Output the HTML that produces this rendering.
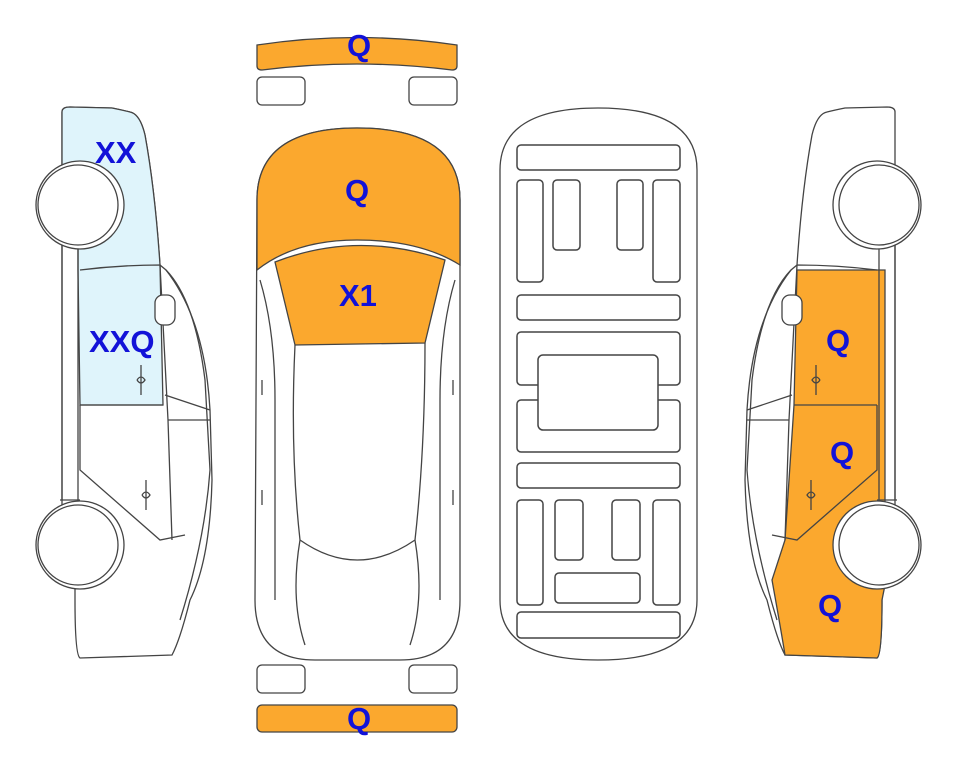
<!DOCTYPE html>
<html><head><style>
body{margin:0;background:#fff;}
svg{display:block}
text{font-family:"Liberation Sans",sans-serif;font-weight:bold;fill:#1212d8;font-size:31px;}
</style></head><body>
<svg width="963" height="768" viewBox="0 0 963 768" xmlns="http://www.w3.org/2000/svg" fill="none" stroke="#444" stroke-width="1.3">
<!-- LEFT CAR -->
<g>
<path d="M62,112 Q62,107 70,107 L112,108 Q122,110 130,112 Q140,114 145,135 Q155,190 160,265 L166,270 Q205,320 210,410 L212,480 Q210,560 190,600 Q180,640 172,655 L80,658 Q75,655 75,600 L75,560 L62,560 L62,112 Z" fill="#fff"/>
<path d="M62,112 Q62,107 70,107 L112,108 Q122,110 130,112 Q140,114 145,135 Q155,190 160,265 L163,405 L80,405 L78,270 L78,245 L62,245 Z" fill="#dff4fb"/>
<path d="M78,245 L78,500 M62,245 L62,500 M80,270 Q120,265 160,265 M80,405 L163,405 M80,405 L80,470 L160,540 L185,535 M160,265 L168,420 L172,540 M166,270 Q195,300 205,380 L210,470 Q205,540 180,620 M165,395 L210,410 M168,420 L210,420 M60,500 L80,500"/>
<rect x="155" y="295" width="20" height="30" rx="8" fill="#fff"/>
<path d="M141,365 L141,395 M137,380 Q141,374 145,380 Q141,386 137,380 M146,480 L146,510 M142,495 Q146,489 150,495 Q146,501 142,495"/>
<circle cx="80" cy="205" r="44" fill="#fff"/><circle cx="78" cy="205" r="40" fill="#fff"/>
<circle cx="80" cy="545" r="44" fill="#fff"/><circle cx="78" cy="545" r="40" fill="#fff"/>
<text x="95" y="163" stroke="none">XX</text>
<text x="89" y="352" stroke="none">XXQ</text>
</g>
<!-- RIGHT CAR (mirror) -->
<g transform="translate(957,0) scale(-1,1)">
<path d="M62,112 Q62,107 70,107 L112,108 Q122,110 130,112 Q140,114 145,135 Q155,190 160,265 L166,270 Q205,320 210,410 L212,480 Q210,560 190,600 Q180,640 172,655 L80,658 Q75,655 75,600 L75,560 L62,560 L62,112 Z" fill="#fff"/>
<path d="M72,270 L160,270 L163,405 L172,540 L185,580 Q176,630 172,655 L80,658 Q75,655 75,600 L72,585 Z" fill="#fba82e"/>
<path d="M78,245 L78,500 M62,245 L62,500 M80,270 Q120,265 160,265 M80,405 L163,405 M80,405 L80,470 L160,540 L185,535 M160,265 L168,420 L172,540 M166,270 Q195,300 205,380 L210,470 Q205,540 180,620 M165,395 L210,410 M168,420 L210,420 M60,500 L80,500"/>
<rect x="155" y="295" width="20" height="30" rx="8" fill="#fff"/>
<path d="M141,365 L141,395 M137,380 Q141,374 145,380 Q141,386 137,380 M146,480 L146,510 M142,495 Q146,489 150,495 Q146,501 142,495"/>
<circle cx="80" cy="205" r="44" fill="#fff"/><circle cx="78" cy="205" r="40" fill="#fff"/>
<circle cx="80" cy="545" r="44" fill="#fff"/><circle cx="78" cy="545" r="40" fill="#fff"/>
</g>
<text x="826" y="351" stroke="none">Q</text>
<text x="830" y="463" stroke="none">Q</text>
<text x="818" y="616" stroke="none">Q</text>
<!-- TOP VIEW CAR -->
<path d="M257,45 Q357,30 457,45 L457,66 Q457,70 452,70 Q357,58 262,70 Q257,70 257,66 Z" fill="#fba82e"/>
<rect x="257" y="77" width="48" height="28" rx="5"/><rect x="409" y="77" width="48" height="28" rx="5"/>
<rect x="257" y="665" width="48" height="28" rx="5"/><rect x="409" y="665" width="48" height="28" rx="5"/>
<rect x="257" y="705" width="200" height="27" rx="5" fill="#fba82e"/>
<path d="M257,200 Q257,128 357,128 Q460,128 460,200 L460,600 Q460,660 400,660 L315,660 Q255,660 255,600 Z" fill="#fff"/>
<path d="M257,200 Q257,128 357,128 Q460,128 460,200 L460,265 Q420,240 357,240 Q295,240 257,270 Z" fill="#fba82e"/>
<path d="M275,262 Q357,230 445,260 L425,343 L295,345 Z" fill="#fba82e"/>
<path d="M295,345 Q290,450 300,540 Q357,580 415,540 Q425,450 425,343 M260,280 Q275,330 275,400 L275,600 M455,280 Q440,330 440,400 L440,600 M300,540 Q290,600 305,645 M415,540 Q425,600 410,645 M262,380 L262,395 M453,380 L453,395 M262,490 L262,505 M453,490 L453,505"/>
<text x="347" y="56" stroke="none">Q</text>
<text x="345" y="201" stroke="none">Q</text>
<text x="339" y="306" stroke="none">X1</text>
<text x="347" y="729" stroke="none">Q</text>
<!-- UNDERSIDE -->
<path d="M500,170 Q500,108 598,108 Q697,108 697,170 L697,600 Q697,660 598,660 Q500,660 500,600 Z"/>
<g stroke-width="1.5">
<rect x="517" y="145" width="163" height="25" rx="4"/>
<rect x="517" y="180" width="26" height="102" rx="4"/>
<rect x="553" y="180" width="27" height="70" rx="4"/>
<rect x="617" y="180" width="26" height="70" rx="4"/>
<rect x="653" y="180" width="27" height="102" rx="4"/>
<rect x="517" y="295" width="163" height="25" rx="4"/>
<rect x="517" y="332" width="163" height="53" rx="4"/>
<rect x="517" y="400" width="163" height="52" rx="4"/>
<rect x="538" y="355" width="120" height="75" rx="5" fill="#fff"/>
<rect x="517" y="463" width="163" height="25" rx="4"/>
<rect x="517" y="500" width="26" height="105" rx="4"/>
<rect x="555" y="500" width="28" height="60" rx="4"/>
<rect x="612" y="500" width="28" height="60" rx="4"/>
<rect x="653" y="500" width="27" height="105" rx="4"/>
<rect x="555" y="573" width="85" height="30" rx="4"/>
<rect x="517" y="612" width="163" height="26" rx="4"/>
</g>
</svg>
</body></html>
